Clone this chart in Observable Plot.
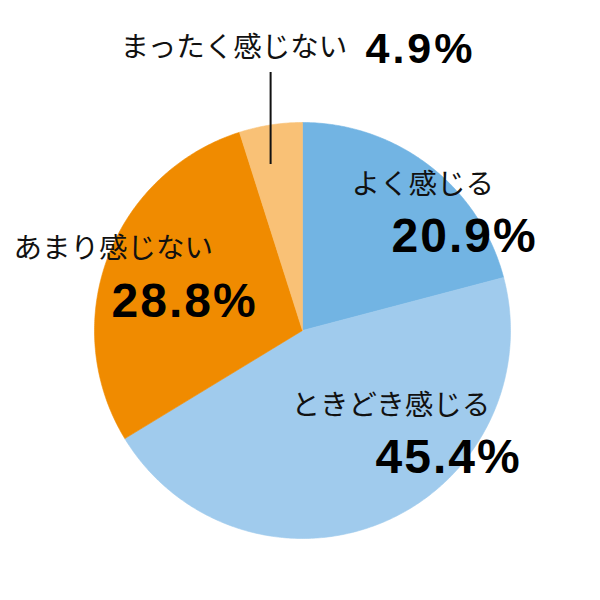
<!DOCTYPE html>
<html>
<head>
<meta charset="utf-8">
<script src="https://cdn.jsdelivr.net/npm/d3@7"></script>
<script src="https://cdn.jsdelivr.net/npm/@observablehq/plot@0.6"></script>
<style>
  html, body { margin: 0; padding: 0; background: #fff; }
  #chart svg { display: block; }
</style>
</head>
<body>
<div id="chart"></div>
<script>
// ---- data ----
const categories = ["よく感じる", "ときどき感じる", "あまり感じない", "まったく感じない"];
const values = [20.9, 45.4, 28.8, 4.9];
const colors = ["#72b4e3", "#a0cbed", "#f08b00", "#f9c176"];

// ---- layout (pixels in a 600x600 frame; pie centre and radius) ----
const W = 600, H = 600, CX = 302, CY = 330, R = 208;
const toX = px => (px - CX) / R;
const toY = py => (CY - py) / R;

// label placement (left x, vertical centre) in pixels
const nameLayout = [
  {px: 351, py: 184},
  {px: 291, py: 405},
  {px: 13,  py: 248},
  {px: 120, py: 47}
];
const pctLayout = [
  {px: 391, py: 236, size: 48},
  {px: 375, py: 457, size: 48},
  {px: 111, py: 301, size: 48},
  {px: 365, py: 49,  size: 43}
];

// ---- slice geometry from the data ----
const arcs = d3.pie().sort(null).value(d => d)(values);
const slicePts = [];
arcs.forEach((a, i) => {
  const cat = categories[i];
  slicePts.push({cat, x: 0, y: 0});
  const n = Math.max(2, Math.ceil((a.endAngle - a.startAngle) / 0.01));
  for (let k = 0; k <= n; k++) {
    const t = a.startAngle + (a.endAngle - a.startAngle) * k / n;
    slicePts.push({cat, x: Math.sin(t), y: Math.cos(t)});
  }
  slicePts.push({cat, x: 0, y: 0});
});

const names = categories.map((c, i) => ({label: c, x: toX(nameLayout[i].px), y: toY(nameLayout[i].py)}));
const pcts = values.map((v, i) => ({label: v.toFixed(1) + "%", x: toX(pctLayout[i].px), y: toY(pctLayout[i].py), size: pctLayout[i].size}));

// leader line for the smallest slice, at its mid angle
const small = arcs[3];
const mid = (small.startAngle + small.endAngle) / 2;
const leader = [{x: Math.sin(mid), y1: toY(164), y2: toY(72)}];

const bigPcts = pcts.filter(d => d.size === 48);
const smallPcts = pcts.filter(d => d.size !== 48);

const plot = Plot.plot({
  width: W,
  height: H,
  margin: 0,
  x: {domain: [toX(0), toX(W)], axis: null},
  y: {domain: [toY(H), toY(0)], axis: null},
  color: {domain: categories, range: colors},
  marks: [
    Plot.line(slicePts, {x: "x", y: "y", z: "cat", fill: "cat", stroke: "cat", strokeWidth: 0.6, curve: "linear"}),
    Plot.ruleX(leader, {x: "x", y1: "y1", y2: "y2", stroke: "#111", strokeWidth: 2}),
    Plot.text(names, {x: "x", y: "y", text: "label", textAnchor: "start", fontSize: 28.5,
      fontFamily: "'Noto Sans CJK JP', sans-serif", fill: "#111"}),
    Plot.text(bigPcts, {x: "x", y: "y", text: "label", textAnchor: "start", fontSize: 48, fontWeight: "bold",
      fontFamily: "'Liberation Sans', Arial, sans-serif", fill: "#000"}),
    Plot.text(smallPcts, {x: "x", y: "y", text: "label", textAnchor: "start", fontSize: 43, fontWeight: "bold",
      fontFamily: "'Liberation Sans', Arial, sans-serif", fill: "#000"})
  ]
});

plot.querySelectorAll('g[font-size="48"]').forEach(g => g.setAttribute("letter-spacing", "2"));
plot.querySelectorAll('g[font-size="43"]').forEach(g => g.setAttribute("letter-spacing", "3"));

document.getElementById("chart").appendChild(plot);
</script>
</body>
</html>
